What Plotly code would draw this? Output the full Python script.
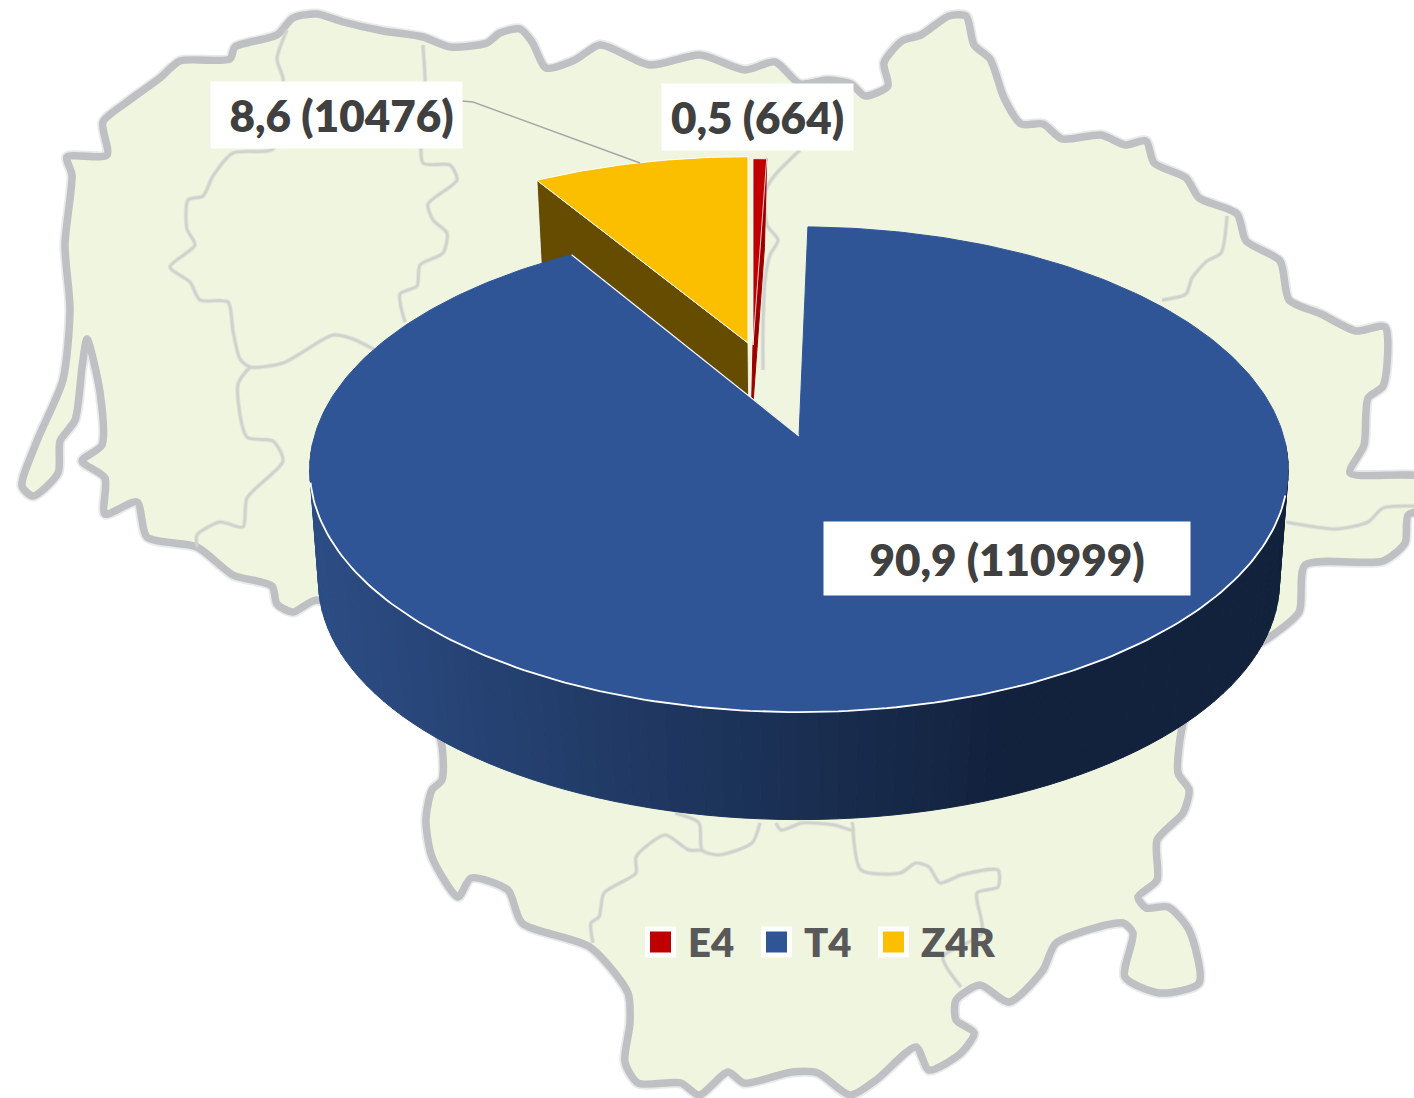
import math
import plotly.graph_objects as go

# ---- data ----
categories = ["E4", "T4", "Z4R"]
shares = [0.5, 90.9, 8.6]
counts = [664, 110999, 10476]
share_labels = ["0,5", "90,9", "8,6"]

# ---- decoration: traced outline of the backdrop map (canvas pixels) ----
map_outline = [
    (317,14),(343,22),(383,31),(423,37),(450,47),(487,43),(500,33),(520,29),(532,42),(546,68),(575,60),
    (600,45),(650,65),(700,55),(745,70),(775,62),(800,84),(827,80),(851,84),(865,96),(888,86),(884,63),
    (902,41),(921,35),(949,16),(966,16),(974,45),(990,59),(1004,98),(1021,124),(1043,124),(1062,139),
    (1101,135),(1125,145),(1146,141),(1154,163),(1186,178),(1199,198),(1237,214),(1246,241),(1280,261),
    (1289,300),(1321,314),(1356,331),(1385,327),(1383,386),(1368,398),(1364,445),(1350,473),(1425,478),
    (1428,508),(1408,515),(1405,543),(1383,561),(1305,565),(1299,612),(1270,637),(1200,680),(1183,723),
    (1178,773),(1189,790),(1183,813),(1157,840),(1157,880),(1138,897),(1146,908),(1168,907),(1189,930),
    (1199,983),(1160,993),(1125,977),(1133,933),(1123,923),(1056,943),(1043,970),(1009,1002),(980,985),
    (956,1000),(956,1020),(974,1033),(961,1053),(929,1070),(916,1047),(876,1080),(850,1095),(818,1073),
    (792,1072),(744,1083),(728,1072),(699,1095),(681,1083),(638,1083),(625,1062),(630,1023),(628,993),
    (590,947),(522,923),(508,890),(471,878),(458,897),(432,857),(426,820),(432,790),(442,780),(440,737),
    (380,640),(317,600),(293,612),(277,604),(272,586),(233,575),(197,547),(147,537),(137,502),(105,514),
    (105,478),(82,461),(102,445),(100,392),(87,339),(82,367),(75,420),(60,441),(58,473),(33,496),(22,486),
    (37,441),(63,380),(70,310),(65,245),(72,175),(67,157),(107,155),(103,122),(127,102),(160,78),(180,61),
    (230,59),(235,47),(277,35),(293,18),(317,14),
]
map_borders = [
    [(287,30),(277,59),(283,78),(283,100),(273,149),(233,153),(213,176),(203,196),(188,200),(187,229),(195,245),
     (170,267),(190,282),(200,300),(228,302),(233,331),(240,359),(250,367),(283,363),(333,335),(353,339),(375,350)],
    [(423,45),(425,78),(425,100),(423,163),(450,165),(457,180),(428,204),(433,220),(447,233),(443,253),(420,265),
     (417,286),(400,294),(405,322)],
    [(250,367),(238,384),(247,437),(273,441),(283,461),(247,498),(243,527),(220,522),(197,535),(197,547)],
    [(1227,216),(1221,253),(1207,261),(1192,278),(1186,294),(1162,300)],
    [(1286,522),(1336,529),(1368,522),(1383,508),(1414,506)],
    [(800,150),(775,175),(766,190),(767,225),(778,240),(770,255),(765,280),(763,330),(763,370)],
    [(675,813),(699,823),(702,850),(718,855),(752,843),(760,823)],
    [(776,823),(781,830),(802,823),(834,825),(853,830),(852,822)],
    [(853,830),(861,870),(900,873),(916,863),(929,867),(940,883),(961,875),(998,870),(998,887),(977,893),(982,933),
     (943,957),(961,987)],
    [(702,850),(689,850),(665,835),(636,857),(636,873),(604,893),(599,917),(591,923),(593,943)],
]

# ---- 3-D pie projection settings (one set per slice: top face, bottom face) ----
# apex x, apex y, A, B, k  : x = ax + A*sin/(1+k*cos), y = ay - B*cos/(1+k*cos)
view = {
    "E4": {"top": (753, 345, 456, 212, 0.138), "bot": (751, 430, 448, 208, 0.138), "start": 0.0},
    "T4": {"top": (799, 436, 484.5, 238, 0.138), "bot": (799, 553, 477, 234.6, 0.12), "start": 1.2},
    "Z4R": {"top": (748, 343, 460, 212, 0.138), "bot": (749, 430, 452, 208, 0.138), "end": 0.0},
}
top_colors = {"E4": "#c00000", "T4": "#2f5597", "Z4R": "#fbbf00"}
wall_colors = {"E4": "#9a0000", "Z4R": "#664c00"}
wall_left, wall_right = (0x2c, 0x4c, 0x84), (0x12, 0x22, 0x3d)

total = sum(counts)
span = {c: 360.0 * v / total for c, v in zip(categories, counts)}


def project(params, deg):
    ax, ay, a, b, k = params
    t = math.radians(deg)
    w = 1 + k * math.cos(t)
    return ax + a * math.sin(t) / w, ay - b * math.cos(t) / w


def arc(params, d0, d1, step=1.0):
    n = max(2, int(abs(d1 - d0) / step) + 1)
    return [project(params, d0 + (d1 - d0) * i / (n - 1)) for i in range(n)]


def poly(points, color, line=None, width=1.0):
    xs = [p[0] for p in points] + [points[0][0]]
    ys = [p[1] for p in points] + [points[0][1]]
    return go.Scatter(x=xs, y=ys, mode="lines", fill="toself", fillcolor=color,
                      line=dict(color=line or color, width=width), hoverinfo="skip", showlegend=False)


def path(points, color, width, smoothing=None):
    line = dict(color=color, width=width)
    if smoothing:
        line.update(shape="spline", smoothing=smoothing)
    return go.Scatter(x=[p[0] for p in points], y=[p[1] for p in points], mode="lines", line=line,
                      hoverinfo="skip", showlegend=False)


fig = go.Figure()

# backdrop map: soft halo, fill + outline, inner borders
fig.add_trace(path(map_outline, "rgba(191,192,195,0.35)", 11, 0.7))
fig.add_trace(go.Scatter(x=[p[0] for p in map_outline], y=[p[1] for p in map_outline], mode="lines", fill="toself",
                         fillcolor="#f0f5e0", line=dict(color="#bfc0c3", width=7.5, shape="spline", smoothing=0.7),
                         hoverinfo="skip", showlegend=False))
for b in map_borders:
    fig.add_trace(path(b, "rgba(207,210,205,0.45)", 4.5, 0.7))
    fig.add_trace(path(b, "#cfd2cd", 2.6, 0.7))

# slice geometry derived from the values
z_end = view["Z4R"]["end"]
z_start = z_end - span["Z4R"]
e_start = view["E4"]["start"]
e_end = e_start + span["E4"]
t_start = view["T4"]["start"]
t_end = t_start + span["T4"]

# Z4R wall and E4 wall
zv, ev, tv = view["Z4R"], view["E4"], view["T4"]
fig.add_trace(poly([zv["top"][:2], project(zv["top"], z_start), project(zv["bot"], z_start), zv["bot"][:2]],
                   wall_colors["Z4R"], "#ffffff", 0.8))
fig.add_trace(poly([ev["top"][:2], project(ev["top"], e_end), project(ev["bot"], e_end), ev["bot"][:2]],
                   wall_colors["E4"]))
# top faces of the two small slices
fig.add_trace(poly([zv["top"][:2]] + arc(zv["top"], z_start, z_end), top_colors["Z4R"], "#ffffff", 1.0))
fig.add_trace(poly([ev["top"][:2]] + arc(ev["top"], e_start, e_end, 0.5), top_colors["E4"], "#ffffff", 0.8))

# T4 outer wall: gradient bands
band = 2.0
d = 92.0
while d < 268.0:
    p = [project(tv["top"], d), project(tv["top"], d + band), project(tv["bot"], d + band), project(tv["bot"], d)]
    mid = sum(q[0] for q in p) / 4
    f = min(1.0, max(0.0, (mid - 320.0) / (1000.0 - 320.0)))
    rgb = tuple(round(wall_left[i] + (wall_right[i] - wall_left[i]) * f) for i in range(3))
    fig.add_trace(poly(p, "rgb(%d,%d,%d)" % rgb, width=1.0))
    d += band

# T4 top
fig.add_trace(poly([tv["top"][:2]] + arc(tv["top"], t_start, t_end), top_colors["T4"], "#2f5597", 1.0))
fig.add_trace(path(arc(tv["top"], 104, 259), "#ffffff", 1.8))
fig.add_trace(path([project(tv["top"], t_end), tv["top"][:2]], "#ffffff", 1.2))

# leader line for the 8,6 label
fig.add_trace(path([(462, 101), (473, 102), (640, 163)], "#a6a6a6", 1.4))

# legend, built with markers (the native legend caps swatches at 16 px)
legend_x = [660.5, 776.5, 893.5]
legend_text_x = [686, 802, 919]
legend_y = 942
for c, lx, tx in zip(categories, legend_x, legend_text_x):
    fig.add_trace(go.Scatter(x=[lx], y=[legend_y], mode="markers", name=c, showlegend=False, hoverinfo="skip",
                             marker=dict(symbol="square", size=26, color=top_colors[c],
                                         line=dict(color="#ffffff", width=5))))
    fig.add_annotation(x=tx, y=legend_y, text=c, showarrow=False, xanchor="left", yanchor="middle",
                       font=dict(family="Lato", size=40, color="#595959", weight=800))

# data labels
label_box = {"E4": (757.5, 117, 191, 66), "T4": (1007, 558.5, 366, 73), "Z4R": (336.5, 115, 251, 66)}
label_pad = {"E4": "", "T4": "", "Z4R": "\u00a0"}
for c, sh, n in zip(categories, share_labels, counts):
    bx, by, bw, bh = label_box[c]
    fig.add_annotation(x=bx, y=by, text=f"{label_pad[c]}{sh} ({n})", showarrow=False, xanchor="center",
                       yanchor="middle", width=bw, height=bh, bgcolor="#ffffff", align="center", valign="middle",
                       borderpad=0, font=dict(family="Lato", size=44, color="#404040", weight=800))

fig.update_layout(
    width=1414, height=1098, margin=dict(l=0, r=0, t=0, b=0), autosize=False,
    paper_bgcolor="#ffffff", plot_bgcolor="#ffffff", showlegend=False,
    xaxis=dict(range=[0, 1414], visible=False, fixedrange=True),
    yaxis=dict(range=[1098, 0], visible=False, fixedrange=True),
)
fig.write_html("out.html", config={"displayModeBar": False},
               post_script="document.body.style.margin='0';document.body.style.overflow='hidden';")
